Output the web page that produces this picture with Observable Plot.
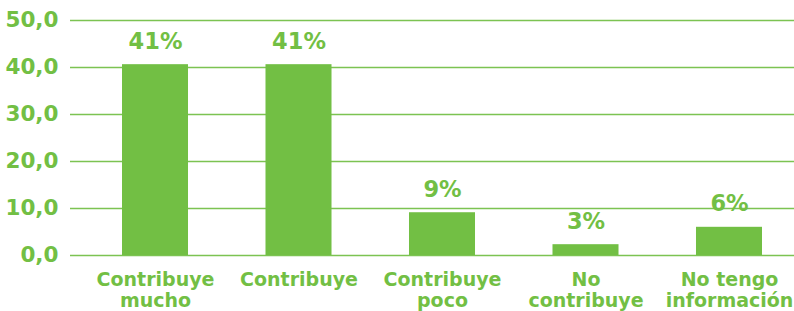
<!DOCTYPE html>
<html><head><meta charset="utf-8">
<script src="https://cdn.jsdelivr.net/npm/d3@7"></script>
<script src="https://cdn.jsdelivr.net/npm/@observablehq/plot@0.6"></script>
<style>
body{margin:0;background:#fff;}
svg{font-family:"DejaVu Sans",sans-serif;}
</style></head><body><div id="chart"></div>
<script>
const categories = ["Contribuye\nmucho", "Contribuye", "Contribuye\npoco", "No\ncontribuye", "No tengo\ninformación"];
const values = [40.6, 40.6, 9.1, 2.3, 6.0];
const labels = ["41%", "41%", "9%", "3%", "6%"];
const yTicks = [0, 10, 20, 30, 40, 50];

const data = categories.map((c, i) => ({cat: c, value: values[i], label: labels[i]}));
const green = "#72bf44";

const chart = Plot.plot({
  width: 794, height: 311,
  marginLeft: 70, marginRight: 0, marginTop: 20, marginBottom: 56,
  style: {background: "#fff", color: green},
  x: {domain: categories, range: [90, 794], paddingInner: 0.54, paddingOuter: 0.223, round: false, label: null},
  y: {domain: [0, 50], label: null},
  marks: [
    Plot.ruleY(yTicks, {stroke: "#7cc352", strokeWidth: 1.6}),
    Plot.axisY({ticks: yTicks, tickSize: 0, tickPadding: 12, tickFormat: d => d.toFixed(1).replace(".", ","), fontSize: 21.5, fontWeight: "bold", fill: green, label: null}),
    Plot.axisX({tickSize: 0, tickPadding: 16, fontSize: 19, fontWeight: "bold", fill: green, lineHeight: 1.08, label: null}),
    Plot.barY(data, {x: "cat", y: "value", fill: green}),
    Plot.text(data, {x: "cat", y: "value", text: "label", lineAnchor: "bottom", dy: -16, fontSize: 22.5, fontWeight: "bold", fill: green})
  ]
});
document.getElementById("chart").append(chart);
</script></body></html>
